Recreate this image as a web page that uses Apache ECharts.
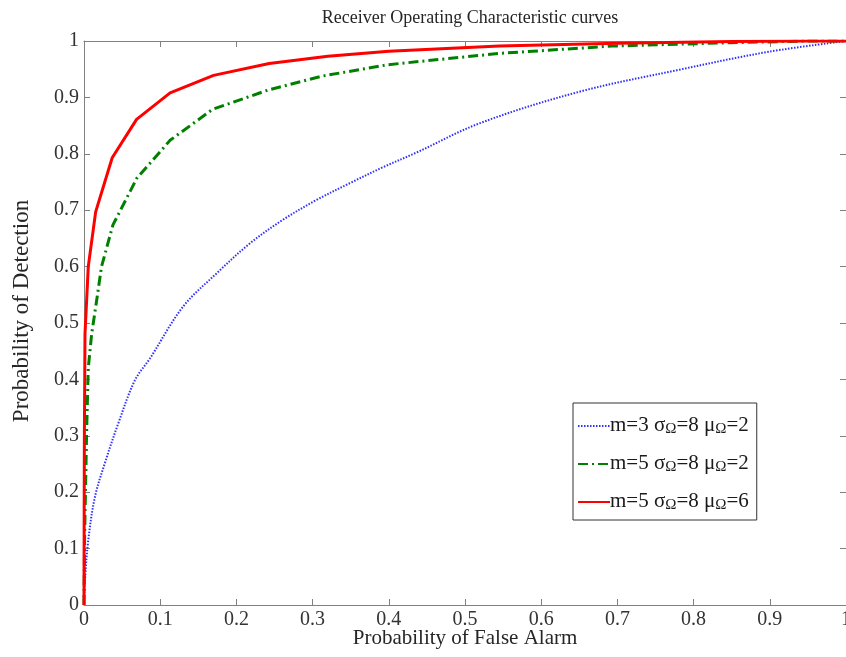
<!DOCTYPE html>
<html>
<head>
<meta charset="utf-8">
<title>ROC curves</title>
<script src="https://cdn.jsdelivr.net/npm/echarts@6/dist/echarts.min.js"></script>
<style>
html, body { margin: 0; padding: 0; background: #fff; }
#main { width: 846px; height: 657px; }
</style>
</head>
<body>
<div id="main"></div>
<script>
// 曲线数据 (Probability of False Alarm, Probability of Detection)
var blueX = [0, 0.0013, 0.0056, 0.0144, 0.0275, 0.045, 0.067, 0.0865, 0.13, 0.174, 0.2176, 0.261, 0.305, 0.349, 0.392, 0.436, 0.519, 0.65, 0.781, 0.899, 1];
var blueY = [0, 0.044, 0.115, 0.192, 0.252, 0.322, 0.399, 0.437, 0.529, 0.588, 0.641, 0.683, 0.718, 0.748, 0.776, 0.802, 0.854, 0.910, 0.949, 0.981, 1];

var greenX = [0, 0.0008, 0.0035, 0.0056, 0.010, 0.0166, 0.023, 0.038, 0.0695, 0.113, 0.169, 0.2415, 0.3136, 0.399, 0.545, 0.693, 0.85, 0.95, 1];
var greenY = [0, 0.12, 0.31, 0.42, 0.48, 0.54, 0.60, 0.674, 0.757, 0.824, 0.879, 0.913, 0.938, 0.958, 0.978, 0.991, 0.997, 1, 1];

var redX = [0, 0.0002, 0.0005, 0.0013, 0.0056, 0.0153, 0.037, 0.069, 0.113, 0.17, 0.243, 0.32, 0.40, 0.545, 0.70, 0.85, 0.95, 1];
var redY = [0, 0.15, 0.30, 0.48, 0.60, 0.697, 0.793, 0.861, 0.908, 0.939, 0.960, 0.973, 0.982, 0.991, 0.996, 0.999, 1, 1];

var seriesNames = ['m=3 σΩ=8 μΩ=2', 'm=5 σΩ=8 μΩ=2', 'm=5 σΩ=8 μΩ=6'];
var legendRich = [
    '{n|m=3 σ}{s|Ω}{n|=8 μ}{s|Ω}{n|=2}',
    '{n|m=5 σ}{s|Ω}{n|=8 μ}{s|Ω}{n|=2}',
    '{n|m=5 σ}{s|Ω}{n|=8 μ}{s|Ω}{n|=6}'
];

function pairs(xs, ys) {
    return xs.map(function (x, i) { return [x, ys[i]]; });
}

var serif = "'Liberation Serif', 'Times New Roman', serif";
var chart = echarts.init(document.getElementById('main'));

var boxAxis = {
    type: 'value', min: 0, max: 1, interval: 0.1,
    axisLine: { show: true, onZero: false, lineStyle: { color: '#808080', width: 1 } },
    axisTick: { show: true, inside: true, length: 6, lineStyle: { color: '#808080' } },
    axisLabel: { show: false },
    splitLine: { show: false }
};

var option = {
    backgroundColor: '#fff',
    animation: false,
    title: {
        text: 'Receiver Operating Characteristic curves',
        left: 465, top: 4, textAlign: 'center',
        textStyle: { fontFamily: serif, fontSize: 18, fontWeight: 'normal', color: '#262626' }
    },
    grid: { left: 84, right: 0, top: 41, bottom: 52, outerBoundsMode: 'none', containLabel: false },
    legend: {
        orient: 'vertical',
        left: 573, top: 403,
        width: 186,
        padding: [7, 8, 7, 4],
        itemGap: 11,
        itemWidth: 32,
        itemHeight: 14,
        backgroundColor: '#fff',
        borderColor: '#333',
        borderWidth: 1,
        borderRadius: 0,
        data: seriesNames,
        itemStyle: { opacity: 0, borderWidth: 0 },
        formatter: function (name) {
            return legendRich[seriesNames.indexOf(name)];
        },
        textStyle: {
            fontFamily: serif,
            padding: [0, 0, 0, -5],
            rich: {
                n: { fontFamily: serif, fontSize: 21, color: '#1a1a1a', lineHeight: 22, verticalAlign: 'top' },
                s: { fontFamily: serif, fontSize: 15, color: '#1a1a1a', lineHeight: 15, verticalAlign: 'bottom', padding: [12, 0, 0, 0] }
            }
        }
    },
    xAxis: [{
        type: 'value', min: 0, max: 1, interval: 0.1,
        name: 'Probability of False Alarm',
        nameLocation: 'middle', nameGap: 23, nameMoveOverlap: false,
        nameTextStyle: { fontFamily: serif, fontSize: 21, color: '#262626' },
        axisLine: { show: true, onZero: false, lineStyle: { color: '#808080', width: 1 } },
        axisTick: { show: true, inside: true, length: 6, lineStyle: { color: '#808080' } },
        axisLabel: { fontFamily: serif, fontSize: 20, color: '#333', margin: 5 },
        splitLine: { show: false }
    }, Object.assign({ position: 'top' }, boxAxis)],
    yAxis: [{
        type: 'value', min: 0, max: 1, interval: 0.1,
        name: 'Probability of Detection',
        nameLocation: 'middle', nameGap: 51, nameMoveOverlap: false,
        nameTextStyle: { fontFamily: serif, fontSize: 23, color: '#262626', padding: [0, 0, 0, 24] },
        axisLine: { show: true, onZero: false, lineStyle: { color: '#808080', width: 1 } },
        axisTick: { show: true, inside: true, length: 6, lineStyle: { color: '#808080' } },
        axisLabel: { fontFamily: serif, fontSize: 20, color: '#333', margin: 5 },
        splitLine: { show: false }
    }, Object.assign({ position: 'right' }, boxAxis)],
    series: [{
        name: seriesNames[0], type: 'line', symbol: 'none', smooth: 0.35,
        data: pairs(blueX, blueY),
        lineStyle: { color: '#3030ff', width: 2, type: [1.5, 1.5] },
        itemStyle: { color: '#3030ff' },
        z: 2
    }, {
        name: seriesNames[1], type: 'line', symbol: 'none', smooth: false,
        data: pairs(greenX, greenY),
        lineStyle: { color: '#008000', width: 3, type: [10, 4, 2, 4] },
        itemStyle: { color: '#008000' },
        z: 3
    }, {
        name: seriesNames[2], type: 'line', symbol: 'none', smooth: false,
        data: pairs(redX, redY),
        lineStyle: { color: '#ff0000', width: 3, type: 'solid' },
        itemStyle: { color: '#ff0000' },
        z: 4
    }]
};

chart.setOption(option);
</script>
</body>
</html>
